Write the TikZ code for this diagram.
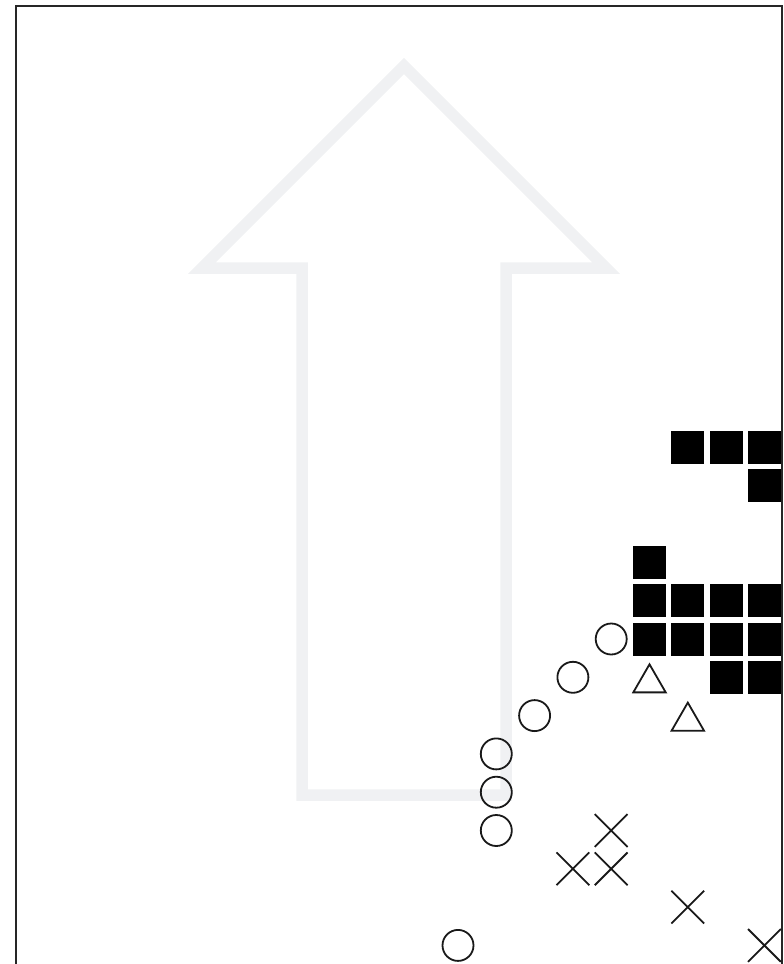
\documentclass[tikz,border=0pt]{standalone}
\usetikzlibrary{shapes.geometric, shapes.misc}
\definecolor{framegray}{HTML}{262626}
\definecolor{arrowgray}{HTML}{F0F1F3}
\tikzset{
    pageframe/.style={
        draw=framegray, line width=2pt
    },
    bigarrow/.style={
        draw=arrowgray, line width=11.5pt
    },
    block/.style={
        rectangle, fill=black, minimum size=33pt, inner sep=0pt
    },
    ring/.style={
        circle, draw=black!90, line width=1.8pt, minimum size=31pt, inner sep=0pt
    },
    tri/.style={
        regular polygon, regular polygon sides=3, draw=black!90, line width=1.8pt,
        minimum size=37.4pt, inner sep=0pt
    },
    xmark/.style={
        cross out, draw=black!90, line width=1.8pt, minimum size=31pt, inner sep=0pt
    }
}

\begin{document}
\begin{tikzpicture}[x=1pt, y=-1pt]

    \useasboundingbox (0,0) rectangle (784,964);
    \clip (0,0) rectangle (784,964);

    % frame, open at the bottom edge of the view
    \draw[pageframe] (15.5,990) -- (15.5,5.5) -- (782.3,5.5) -- (782.3,990);

    % faint up arrow in the background
    \draw[bigarrow] (404,66) -- (202,268) -- (302,268) -- (302,795)
        -- (506,795) -- (506,268) -- (606,268) -- cycle;

    % filled squares
    \node[block] (s1)  at (687.8,447.5) {};
    \node[block] (s2)  at (726.1,447.5) {};
    \node[block] (s3)  at (764.4,447.5) {};
    \node[block] (s4)  at (764.4,485.8) {};
    \node[block] (s5)  at (649.5,562.4) {};
    \node[block] (s6)  at (649.5,600.7) {};
    \node[block] (s7)  at (687.8,600.7) {};
    \node[block] (s8)  at (726.1,600.7) {};
    \node[block] (s9)  at (764.4,600.7) {};
    \node[block] (s10) at (649.5,639.0) {};
    \node[block] (s11) at (687.8,639.0) {};
    \node[block] (s12) at (726.1,639.0) {};
    \node[block] (s13) at (764.4,639.0) {};
    \node[block] (s14) at (726.1,677.3) {};
    \node[block] (s15) at (764.4,677.3) {};

    % open circles
    \node[ring] (c1) at (611.2,639.0) {};
    \node[ring] (c2) at (572.9,677.3) {};
    \node[ring] (c3) at (534.6,715.6) {};
    \node[ring] (c4) at (496.3,753.9) {};
    \node[ring] (c5) at (496.3,792.2) {};
    \node[ring] (c6) at (496.3,830.5) {};
    \node[ring] (c7) at (458.0,945.4) {};

    % triangles
    \node[tri] (t1) at (649.5,683.0) {};
    \node[tri] (t2) at (687.8,721.3) {};

    % crosses
    \node[xmark] (x1) at (611.2,830.5) {};
    \node[xmark] (x2) at (572.9,868.8) {};
    \node[xmark] (x3) at (611.2,868.8) {};
    \node[xmark] (x4) at (687.8,907.1) {};
    \node[xmark] (x5) at (764.4,945.4) {};

\end{tikzpicture}
\end{document}
